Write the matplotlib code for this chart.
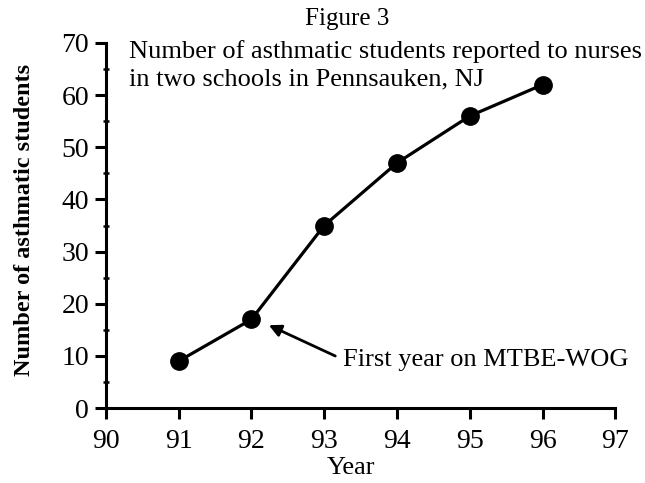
import matplotlib
matplotlib.use("Agg")
import matplotlib.pyplot as plt
from matplotlib.ticker import MultipleLocator

years = [91, 92, 93, 94, 95, 96]
students = [9, 17, 35, 47, 56, 62]

plt.rcParams['font.family'] = ['Liberation Serif', 'DejaVu Serif']

fig = plt.figure(figsize=(6.45, 4.83), dpi=100)
ax = fig.add_axes([0.164, 0.155, 0.79, 0.756])

ax.plot(years, students, color='black', lw=2.3, marker='o', ms=12.5,
        clip_on=False, zorder=3)

ax.set_xlim(90, 97)
ax.set_ylim(0, 70)
ax.xaxis.set_major_locator(MultipleLocator(1))
ax.yaxis.set_major_locator(MultipleLocator(10))
ax.yaxis.set_minor_locator(MultipleLocator(5))
ax.spines['top'].set_visible(False)
ax.spines['right'].set_visible(False)
for s in ('left', 'bottom'):
    ax.spines[s].set_linewidth(2.2)
ax.tick_params(axis='both', which='major', length=8, width=2.2, labelsize=20, pad=4)
ax.tick_params(axis='x', which='major', pad=7)
ax.tick_params(axis='y', which='minor', length=5, width=1.8, direction='inout')

ax.set_xlabel('Year', fontsize=19, va='center')
ax.xaxis.set_label_coords(0.482, -0.165)
ax.set_ylabel('Number of asthmatic students', fontsize=17.5, fontweight='bold',
              va='center')
ax.yaxis.set_label_coords(-0.159, 0.515)

fig.text(0.538, 0.96, 'Figure 3', ha='center', va='center', fontsize=18)
ax.text(0.045, 1.008, 'Number of asthmatic students reported to nurses\n'
        'in two schools in Pennsauken, NJ', transform=ax.transAxes,
        ha='left', va='top', fontsize=19, linespacing=1.3)

ax.annotate('First year on MTBE-WOG', xy=(92.24, 15.9), xytext=(93.26, 9.3),
            fontsize=19, va='center', ha='left',
            arrowprops=dict(arrowstyle='-|>', color='black', lw=2,
                            mutation_scale=18, shrinkA=4, shrinkB=0,
                            relpos=(0, 0.5)))

fig.savefig('out.png', dpi=100)
